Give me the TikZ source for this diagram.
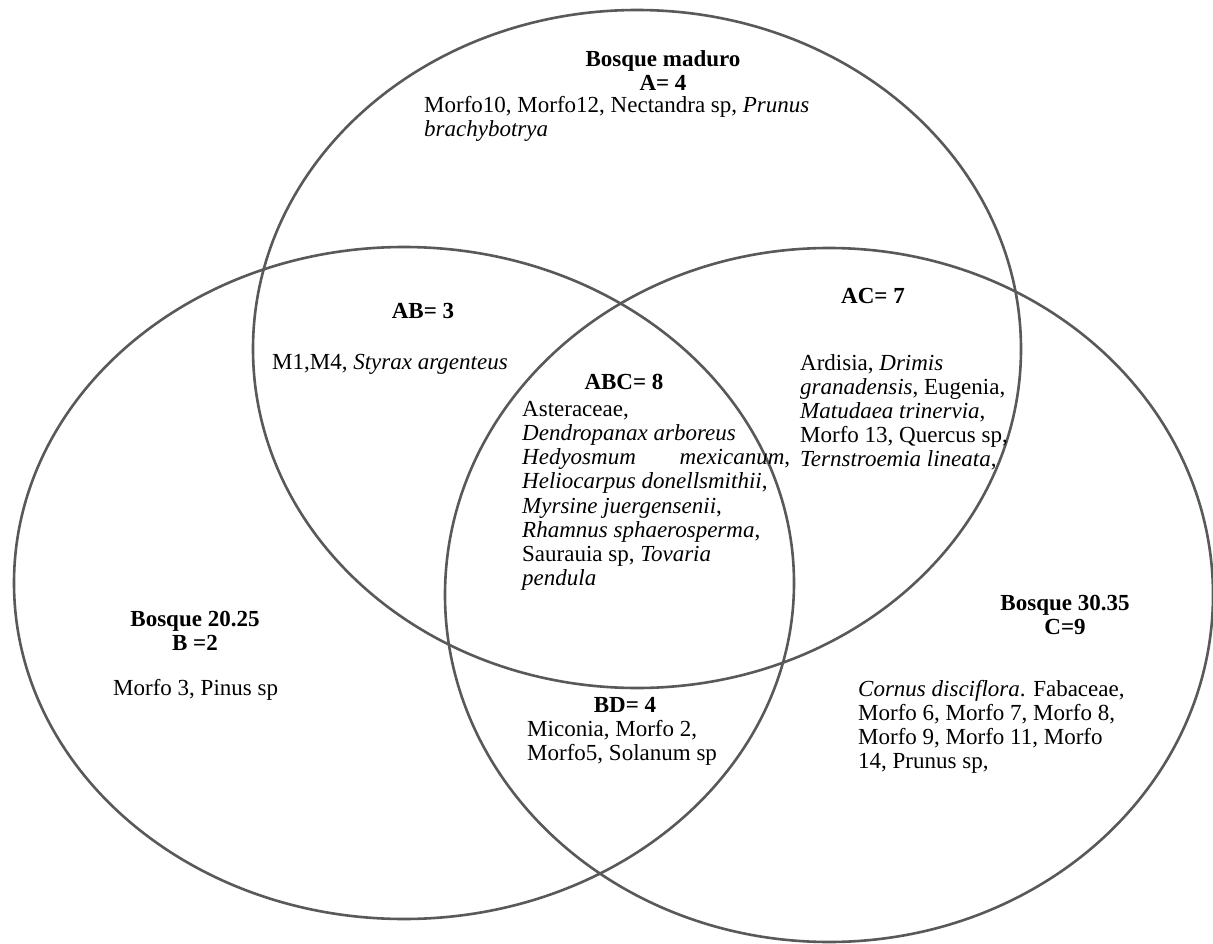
\documentclass[tikz,border=0pt]{standalone}
\usepackage{fontspec}
\setmainfont{Liberation Serif}
\definecolor{ringgray}{RGB}{89,89,89}
\begin{document}
\begin{tikzpicture}[x=1pt,y=-1pt,
  ring/.style={draw=ringgray,line width=2.6pt},
  head/.style={font=\fontsize{23}{24.2}\selectfont\bfseries,align=center,inner sep=0pt,anchor=north},
  list/.style={font=\fontsize{23}{24.2}\selectfont,align=left,inner sep=0pt,anchor=north west}]
\useasboundingbox[fill=white] (0,0) rectangle (1213,944);
% sets
\draw[ring] (637,349) ellipse [x radius=384pt, y radius=339pt];
\draw[ring] (404,583) ellipse [x radius=390pt, y radius=336pt];
\draw[ring] (829,595) ellipse [x radius=384pt, y radius=347pt];
% A
\node[head] (ahead) at (663,50) {Bosque maduro\\A= 4};
\node[list] (alist) at (424,96) {Morfo10, Morfo12, Nectandra sp, \textit{Prunus}\\\textit{brachybotrya}};
% AB
\node[head] (abhead) at (423,303) {AB= 3};
\node[list] (ablist) at (272,354) {M1,M4, \textit{Styrax argenteus}};
% ABC
\node[head] (abchead) at (624,374) {ABC= 8};
\node[list] (abclist) at (522,401) {Asteraceae,\\
  \textit{Dendropanax arboreus}\\
  \hbox to 268pt{\textit{Hedyosmum}\hfill\textit{mexicanum},}\\
  \textit{Heliocarpus donellsmithii},\\
  \textit{Myrsine juergensenii},\\
  \textit{Rhamnus sphaerosperma},\\
  Saurauia sp, \textit{Tovaria}\\
  \textit{pendula}};
% AC
\node[head] (achead) at (873,288) {AC= 7};
\node[list] (aclist) at (800,354) {Ardisia, \textit{Drimis}\\
  \textit{granadensis}, Eugenia,\\
  \textit{Matudaea trinervia},\\
  Morfo 13, Quercus sp,\\
  \textit{Ternstroemia lineata},};
% B
\node[head] (bhead) at (195,611) {Bosque 20.25\\B =2};
\node[list] (blist) at (113,679) {Morfo 3, Pinus sp};
% BD
\node[head] (bdhead) at (625,697) {BD= 4};
\node[list] (bdlist) at (527,720) {Miconia, Morfo 2,\\Morfo5, Solanum sp};
% C
\node[head] (chead) at (1065,595) {Bosque 30.35\\C=9};
\node[list] (clist) at (858,680) {\textit{Cornus disciflora}. Fabaceae,\\
  Morfo 6, Morfo 7, Morfo 8,\\
  Morfo 9, Morfo 11, Morfo\\
  14, Prunus sp,};
\end{tikzpicture}
\end{document}
